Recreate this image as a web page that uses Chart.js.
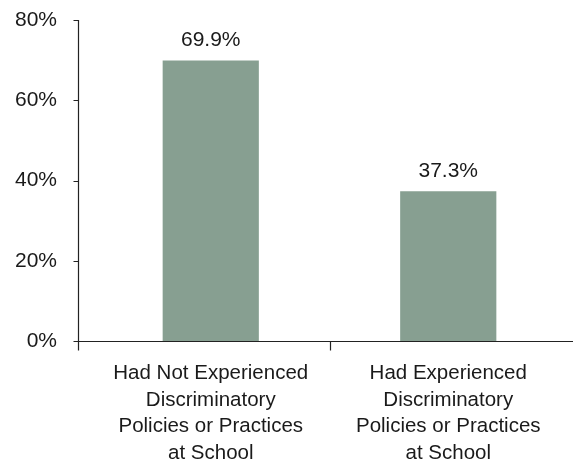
<!DOCTYPE html>
<html>
<head>
<meta charset="utf-8">
<script src="https://cdn.jsdelivr.net/npm/chart.js@4"></script>
<style>
  html, body { margin: 0; padding: 0; background: #fff; }
  #wrap { width: 573px; height: 461px; }
</style>
</head>
<body>
<div id="wrap"><canvas id="barChart"></canvas></div>
<script>
// Data
const categories = [
    ['Had Not Experienced', 'Discriminatory', 'Policies or Practices', 'at School'],
    ['Had Experienced', 'Discriminatory', 'Policies or Practices', 'at School']
];
const values = [69.9, 37.3];
const yTicks = [0, 20, 40, 60, 80];

const barColor = '#879f91';
const textColor = '#1a1a1a';
const axisColor = '#222222';

// Axis lines sit a bit left of the plot, like the original
const axesPlugin = {
    id: 'axesPlugin',
    afterDatasetsDraw(chart) {
        const ctx = chart.ctx;
        const area = chart.chartArea;
        const y = chart.scales.y;
        const x = chart.scales.x;
        const axisX = Math.round(area.left - 14) + 0.5;
        const baseY = Math.round(y.getPixelForValue(0)) + 0.5;
        ctx.save();
        ctx.strokeStyle = axisColor;
        ctx.lineWidth = 1.2;
        ctx.beginPath();
        // vertical axis
        ctx.moveTo(axisX, Math.round(y.getPixelForValue(yTicks[yTicks.length - 1])));
        ctx.lineTo(axisX, baseY + 9);
        // tick marks
        yTicks.forEach(v => {
            const py = Math.round(y.getPixelForValue(v)) + 0.5;
            ctx.moveTo(axisX - 5, py);
            ctx.lineTo(axisX, py);
        });
        // horizontal axis
        ctx.moveTo(axisX - 3, baseY);
        ctx.lineTo(chart.width, baseY);
        // category divider ticks
        for (let i = 1; i < categories.length; i++) {
            const px = Math.round((x.getPixelForValue(i - 1) + x.getPixelForValue(i)) / 2) + 0.5;
            ctx.moveTo(px, baseY);
            ctx.lineTo(px, baseY + 9);
        }
        ctx.stroke();

        // value labels
        ctx.fillStyle = textColor;
        ctx.font = '21px "Liberation Sans", Arial, sans-serif';
        ctx.textAlign = 'center';
        ctx.textBaseline = 'middle';
        const meta = chart.getDatasetMeta(0);
        meta.data.forEach((bar, i) => {
            ctx.fillText(values[i].toFixed(1) + '%', bar.x, bar.y - 20);
        });
        ctx.restore();
    }
};

document.addEventListener('DOMContentLoaded', function() {
    const ctx = document.getElementById('barChart').getContext('2d');
    new Chart(ctx, {
        type: 'bar',
        data: {
            labels: categories,
            datasets: [{
                data: values,
                backgroundColor: barColor,
                borderWidth: 0,
                barPercentage: 0.405,
                categoryPercentage: 1
            }]
        },
        options: {
            responsive: true,
            maintainAspectRatio: false,
            animation: false,
            layout: {
                padding: { top: 20, right: 6, bottom: 0, left: 0 }
            },
            plugins: {
                legend: { display: false },
                tooltip: { enabled: false }
            },
            scales: {
                x: {
                    grid: { display: false, drawTicks: false },
                    border: { display: false },
                    ticks: {
                        color: textColor,
                        font: { family: '"Liberation Sans", Arial, sans-serif', size: 20.5, lineHeight: 1.3 },
                        padding: 19,
                        maxRotation: 0,
                        autoSkip: false
                    },
                    afterFit(scale) { scale.height = 120; }
                },
                y: {
                    min: 0,
                    max: 80,
                    grid: { display: false, drawTicks: false },
                    border: { display: false },
                    afterBuildTicks(scale) {
                        scale.ticks = yTicks.map(v => ({ value: v }));
                    },
                    ticks: {
                        color: textColor,
                        font: { family: '"Liberation Sans", Arial, sans-serif', size: 21 },
                        padding: 35,
                        callback: v => v + '%'
                    },
                    afterFit(scale) {
                        scale.width = 92;
                        scale.paddingTop = 0;
                        scale.paddingBottom = 0;
                    }
                }
            }
        },
        plugins: [axesPlugin]
    });
});
</script>
</body>
</html>
